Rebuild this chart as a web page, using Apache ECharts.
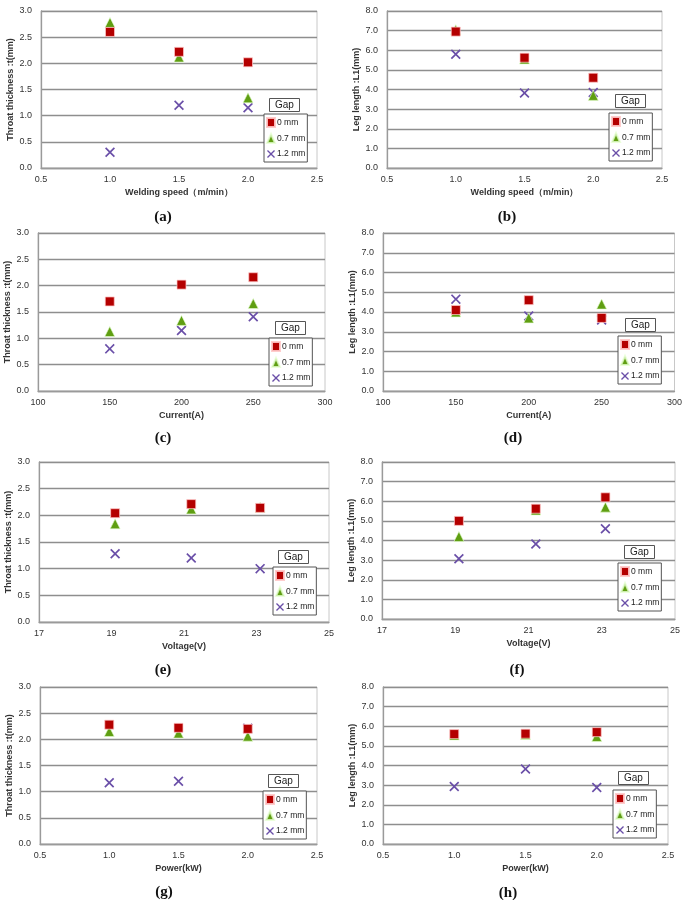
<!DOCTYPE html>
<html>
<head>
<meta charset="utf-8">
<script src="https://cdn.jsdelivr.net/npm/echarts@6/dist/echarts.min.js"></script>
<style>
html,body{margin:0;padding:0;background:#fff;}
#chart{width:685px;height:900px;}
</style>
</head>
<body>
<div id="chart"></div>
<script>
// ---------- data ----------
const gapNames = ['0 mm', '0.7 mm', '1.2 mm'];

const speedX = [1.0, 1.5, 2.0];
const currentX = [150, 200, 250];
const voltageX = [19.1, 21.2, 23.1];
const powerX = [1.0, 1.5, 2.0];

// (a) throat thickness vs welding speed
const a_gap0 = [2.60, 2.22, 2.02];
const a_gap07 = [2.78, 2.12, 1.34];
const a_gap12 = [0.30, 1.20, 1.15];
// (b) leg length vs welding speed
const b_gap0 = [6.95, 5.62, 4.60];
const b_gap07 = [7.05, 5.55, 3.70];
const b_gap12 = [5.80, 3.82, 3.85];
// (c) throat thickness vs current
const c_gap0 = [1.70, 2.02, 2.16];
const c_gap07 = [1.13, 1.34, 1.66];
const c_gap12 = [0.80, 1.15, 1.41];
// (d) leg length vs current
const d_gap0 = [4.10, 4.60, 3.70];
const d_gap07 = [4.00, 3.70, 4.40];
const d_gap12 = [4.65, 3.80, 3.60];
// (e) throat thickness vs voltage
const e_gap0 = [2.04, 2.21, 2.14];
const e_gap07 = [1.84, 2.12, 2.15];
const e_gap12 = [1.28, 1.20, 1.00];
// (f) leg length vs voltage
const f_gap0 = [5.00, 5.62, 6.20];
const f_gap07 = [4.20, 5.55, 5.70];
const f_gap12 = [3.07, 3.82, 4.60];
// (g) throat thickness vs power
const g_gap0 = [2.28, 2.22, 2.20];
const g_gap07 = [2.15, 2.12, 2.06];
const g_gap12 = [1.17, 1.20, 2.21];
// (h) leg length vs power
const h_gap0 = [5.60, 5.62, 5.70];
const h_gap07 = [5.55, 5.58, 5.48];
const h_gap12 = [2.93, 3.82, 2.88];

const panelLabels = ['(a)', '(b)', '(c)', '(d)', '(e)', '(f)', '(g)', '(h)'];
const throatName = 'Throat thickness :t(mm)';
const legName = 'Leg length :L1(mm)';
const xNames = ['Welding speed（m/min）', 'Current(A)', 'Voltage(V)', 'Power(kW)'];

// x ranges [min, max, step, labelStep]
const speedRange = [0.5, 2.5, 0.5, 0.5];
const currentRange = [100, 300, 50, 50];
const voltageRange = [17, 25, 1, 2];
const powerRange = [0.5, 2.5, 0.5, 0.5];
const throatRange = [0, 3, 0.5];
const legRange = [0, 8, 1];

// ---------- layout ----------
const panels = [
  {x: speedX, ys: [a_gap0, a_gap07, a_gap12], xr: speedRange, yr: throatRange, xName: xNames[0], yName: throatName,
   grid: {left: 41, top: 11, width: 276, height: 157}, gap: [269, 98], leg: [264, 114], lab: [163, 217]},
  {x: speedX, ys: [b_gap0, b_gap07, b_gap12], xr: speedRange, yr: legRange, xName: xNames[0], yName: legName,
   grid: {left: 387, top: 11, width: 275, height: 157}, gap: [615, 94], leg: [609, 113], lab: [507, 217]},
  {x: currentX, ys: [c_gap0, c_gap07, c_gap12], xr: currentRange, yr: throatRange, xName: xNames[1], yName: throatName,
   grid: {left: 38, top: 233, width: 287, height: 158}, gap: [275, 321], leg: [269, 338], lab: [163, 438]},
  {x: currentX, ys: [d_gap0, d_gap07, d_gap12], xr: currentRange, yr: legRange, xName: xNames[1], yName: legName,
   grid: {left: 383, top: 233, width: 292, height: 158}, gap: [625, 318], leg: [618, 336], lab: [513, 438]},
  {x: voltageX, ys: [e_gap0, e_gap07, e_gap12], xr: voltageRange, yr: throatRange, xName: xNames[2], yName: throatName,
   grid: {left: 39, top: 462, width: 290, height: 160}, gap: [278, 550], leg: [273, 567], lab: [163, 670]},
  {x: voltageX, ys: [f_gap0, f_gap07, f_gap12], xr: voltageRange, yr: legRange, xName: xNames[2], yName: legName,
   grid: {left: 382, top: 462, width: 293, height: 157}, gap: [624, 545], leg: [618, 563], lab: [517, 670]},
  {x: powerX, ys: [g_gap0, g_gap07, g_gap12], xr: powerRange, yr: throatRange, xName: xNames[3], yName: throatName,
   grid: {left: 40, top: 687, width: 277, height: 157}, gap: [268, 774], leg: [263, 791], lab: [164, 892]},
  {x: powerX, ys: [h_gap0, h_gap07, h_gap12], xr: powerRange, yr: legRange, xName: xNames[3], yName: legName,
   grid: {left: 383, top: 687, width: 285, height: 157}, gap: [618, 771], leg: [613, 790], lab: [508, 893]}
];

const FONT = 'Liberation Sans, Arial, sans-serif';
const xPath = 'path://M0,1.2L1.2,0L5,3.8L8.8,0L10,1.2L6.2,5L10,8.8L8.8,10L5,6.2L1.2,10L0,8.8L3.8,5Z';
const markers = [
  {symbol: 'rect', size: 9, color: '#b40000', border: 'rgba(255,200,200,0.9)'},
  {symbol: 'triangle', size: 10, color: '#5f9e12', border: 'rgba(230,255,210,0.8)'},
  {symbol: xPath, size: 10, color: '#6a4fa8', border: 'rgba(0,0,0,0)'}
];

const grids = [], xAxes = [], yAxes = [], series = [], legends = [], titles = [], graphics = [];

panels.forEach((p, i) => {
  grids.push(Object.assign({show: true, borderColor: '#c8c8c8', borderWidth: 1, backgroundColor: '#fff'}, p.grid));
  const xr = p.xr, yr = p.yr;
  xAxes.push({
    type: 'value', gridIndex: i, min: xr[0], max: xr[1], interval: xr[2],
    axisLine: {show: true, lineStyle: {color: '#9a9a9a', width: 1.3}},
    axisTick: {show: false}, splitLine: {show: false},
    axisLabel: {fontFamily: FONT, fontSize: 9, color: '#333', margin: 7,
      formatter: v => {
        const k = Math.round((v - xr[0]) / xr[3] * 1000) / 1000;
        if (Math.abs(k - Math.round(k)) > 1e-6) return '';
        return xr[2] < 1 ? v.toFixed(1) : String(Math.round(v));
      }},
    name: p.xName, nameLocation: 'middle', nameGap: 20,
    nameTextStyle: {fontFamily: FONT, fontSize: 9, fontWeight: 'bold', color: '#333'}
  });
  yAxes.push({
    type: 'value', gridIndex: i, min: yr[0], max: yr[1], interval: yr[2],
    axisLine: {show: true, lineStyle: {color: '#9a9a9a', width: 1.3}},
    axisTick: {show: false},
    splitLine: {show: true, lineStyle: {color: '#8e8e8e', width: 1.3}},
    axisLabel: {fontFamily: FONT, fontSize: 9, color: '#333', margin: 9, formatter: v => v.toFixed(1)},
    name: p.yName, nameLocation: 'middle', nameRotate: 90, nameGap: 26,
    nameTextStyle: {fontFamily: FONT, fontSize: 9, fontWeight: 'bold', color: '#333'}
  });
  p.ys.forEach((ys, j) => {
    const m = markers[j];
    series.push({
      type: 'scatter', name: gapNames[j], xAxisIndex: i, yAxisIndex: i,
      symbol: m.symbol, symbolSize: m.size,
      itemStyle: {color: m.color, borderColor: m.border, borderWidth: 0.8, opacity: 1},
      data: p.x.map((xv, k) => [xv, ys[k]]),
      z: 3 + (2 - j)
    });
  });
  legends.push({
    left: p.leg[0], top: p.leg[1], orient: 'vertical', data: gapNames,
    itemWidth: 8, itemHeight: 9, itemGap: 5,
    padding: [3, 2, 3, 2], borderColor: '#555', borderWidth: 1, backgroundColor: '#fff',
    textStyle: {fontFamily: FONT, fontSize: 8.5, color: '#222', padding: [0, 0, 0, -3]},
    selectedMode: false, z: 6
  });
  titles.push({
    text: 'Gap', left: p.gap[0], top: p.gap[1],
    padding: [2, 6, 2, 6], borderColor: '#555', borderWidth: 1, backgroundColor: '#fff',
    textStyle: {fontFamily: FONT, fontSize: 10, fontWeight: 'normal', color: '#222'}, z: 7
  });
  graphics.push({
    type: 'text', x: p.lab[0], y: p.lab[1],
    style: {text: panelLabels[i], font: 'bold 15px "Liberation Serif", "Times New Roman", serif',
      fill: '#111', align: 'center', verticalAlign: 'middle'}
  });
});

const chart = echarts.init(document.getElementById('chart'), null, {renderer: 'canvas'});
chart.setOption({
  animation: false,
  backgroundColor: '#fff',
  grid: grids, xAxis: xAxes, yAxis: yAxes, series: series,
  legend: legends, title: titles, graphic: graphics
});
</script>
</body>
</html>
